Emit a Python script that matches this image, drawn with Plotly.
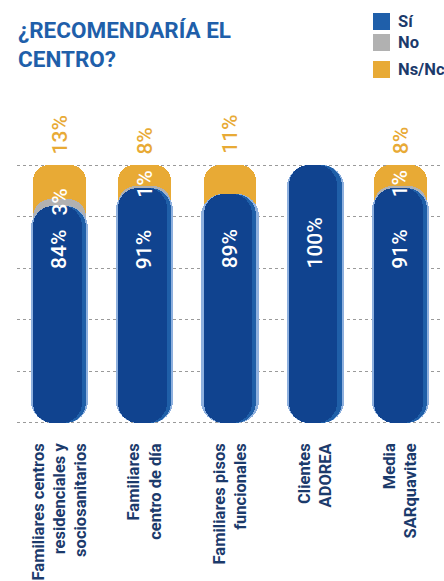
import plotly.graph_objects as go

# Survey answers per group (percent)
CATEGORIES = [
    "Familiares centros<br>residenciales y<br>sociosanitarios",
    "Familiares<br>centro de día",
    "Familiares pisos<br>funcionales",
    "Clientes<br>ADOREA",
    "Media<br>SARquavitae",
]
SI = [84, 91, 89, 100, 91]
NO = [3, 1, 0, 0, 1]
NSNC = [13, 8, 11, 0, 8]
SERIES = ["Sí", "No", "Ns/Nc"]
TITLE = "¿RECOMENDARÍA EL<br>CENTRO?"

# Palette
C_SI = "#10438F"
C_SI_EDGE = "#1F5FA8"
C_SI_GLOW = "#8EB0DE"
C_NO = "#B1B1B1"
C_NSNC = "#E8AA35"
C_LEGEND_SI = "#1F5FAA"
TITLE_BLUE = "#1F5FAA"
NAVY = "#1B3A6B"

TXT = "Roboto, Arial, sans-serif"

top_no = [s + n for s, n in zip(SI, NO)]
top_all = [s + n + k for s, n, k in zip(SI, NO, NSNC)]

fig = go.Figure()


def upper(tops, show, color, offset, width, radius):
    """Segment from a quarter of the column up to its top, rounded at the top."""
    base = [s * 0.25 for s in SI]
    fig.add_bar(
        x=CATEGORIES,
        y=[t - b if ok else None for t, b, ok in zip(tops, base, show)],
        base=base,
        offset=offset, width=width,
        marker=dict(color=color, cornerradius=radius, line=dict(width=0)),
        showlegend=False, hoverinfo="skip",
    )


def lower(color, offset, width, radius):
    """Segment from three quarters of the column down to zero, rounded at the bottom."""
    base = [s * 0.75 for s in SI]
    fig.add_bar(
        x=CATEGORIES,
        y=[-b for b in base],
        base=base,
        offset=offset, width=width,
        marker=dict(color=color, cornerradius=radius, line=dict(width=0)),
        showlegend=False, hoverinfo="skip",
    )


always = [True] * len(SI)

# Ns/Nc and No caps behind the main column
upper(top_all, [k > 0 for k in NSNC], C_NSNC, -0.31, 0.62, 16)
upper(top_no, [n > 0 for n in NO], C_NO, -0.31, 0.62, 18)

# Soft glow, lighter edge and main "Sí" column
for col, off, w, r in [
    (C_SI_GLOW, -0.335, 0.67, 22),
    (C_SI_EDGE, -0.31, 0.62, 21),
    (C_SI, -0.31, 0.57, 20),
]:
    lower(col, off, w, r)
    upper(SI, always, col, off, w, r)

annotations = []

# Value labels
for cat, s, n, k, tot in zip(CATEGORIES, SI, NO, NSNC, top_all):
    annotations.append(dict(
        x=cat, y=59, xref="x", yref="y", text=f"{s}%", textangle=-90,
        showarrow=False, yanchor="bottom", xanchor="center",
        font=dict(family=TXT, size=21, color="white", weight=500),
    ))
    if n > 0:
        annotations.append(dict(
            x=cat, y=s, xref="x", yref="y", text=f"{n}%", textangle=-90,
            showarrow=False, yanchor="bottom", xanchor="center", yshift=-11,
            font=dict(family=TXT, size=21, color="white", weight=500),
        ))
    if k > 0:
        annotations.append(dict(
            x=cat, y=tot, xref="x", yref="y", text=f"{k}%", textangle=-90,
            showarrow=False, yanchor="bottom", xanchor="center", yshift=9,
            font=dict(family=TXT, size=21, color=C_NSNC, weight=500),
        ))

# Title
annotations.append(dict(
    x=0, y=1, xref="paper", yref="paper", xanchor="left", yanchor="middle",
    xshift=-1, yshift=120, align="left", showarrow=False, text=TITLE,
    font=dict(family=TXT, size=22.5, color=TITLE_BLUE, weight="bold"),
))

# Legend
shapes = []
legend_rows = [(C_LEGEND_SI, 134, 151), (C_NO, 113, 130), (C_NSNC, 86, 103)]
for name, (col, y0, y1) in zip(SERIES, legend_rows):
    shapes.append(dict(
        type="rect", xref="paper", yref="paper",
        xsizemode="pixel", ysizemode="pixel", xanchor=1, yanchor=1,
        x0=-70, x1=-53, y0=y0, y1=y1, fillcolor=col, line=dict(width=0),
    ))
    annotations.append(dict(
        x=1, y=1, xref="paper", yref="paper", xanchor="left", yanchor="middle",
        xshift=-47, yshift=(y0 + y1) / 2, showarrow=False, text=name,
        font=dict(family=TXT, size=16.5, color=NAVY, weight="bold"),
    ))

fig.update_layout(
    width=444, height=581,
    margin=dict(l=17, r=1, t=164, b=157, pad=0),
    barmode="overlay", bargap=0,
    paper_bgcolor="white", plot_bgcolor="white",
    showlegend=False,
    annotations=annotations, shapes=shapes,
    xaxis=dict(
        showgrid=False, zeroline=False, showline=False, ticks="",
        tickangle=-90, ticklabelstandoff=15, automargin=False,
        tickfont=dict(family=TXT, size=16.5, color=NAVY, weight="bold"),
        fixedrange=True,
    ),
    yaxis=dict(
        range=[-0.5, 100.5], tickvals=[0, 20, 40, 60, 80, 100],
        showticklabels=False, showgrid=True, gridcolor="#9A9A9A",
        gridwidth=1, griddash="dot", zeroline=False, showline=False,
        automargin=False, fixedrange=True,
    ),
)

fig.write_html("out.html")
